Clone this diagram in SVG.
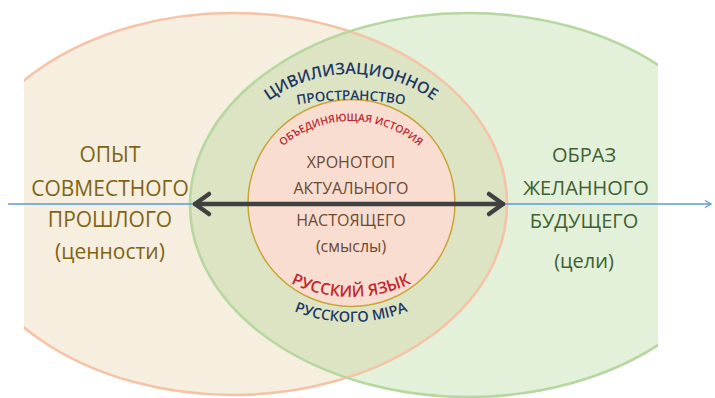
<svg xmlns="http://www.w3.org/2000/svg" width="715" height="398" viewBox="0 0 715 398">
  <defs>
    <clipPath id="crop"><rect x="24" y="0" width="634" height="398"/></clipPath>
    <path id="arcCiv" d="M 211 214 A 140 140 0 0 1 491 214"/>
    <path id="arcProst" d="M 51 400 A 300 300 0 0 1 651 400"/>
    <path id="arcObj" d="M 246 226 A 105 105 0 0 1 456 226"/>
    <path id="arcRus" d="M 211 157 A 140 140 0 0 0 491 157"/>
    <path id="arcMir" d="M 196 167 A 155 155 0 0 0 506 167"/>
    <marker id="blueHead" markerWidth="10" markerHeight="10" refX="8" refY="5" orient="auto" markerUnits="userSpaceOnUse">
      <path d="M 2 1.5 L 8 5 L 2 8.5" fill="none" stroke="#5B9BD5" stroke-width="1.3"/>
    </marker>
  </defs>
  <style>
    text { font-family: "Open Sans", "Noto Sans", "DejaVu Sans", sans-serif; text-anchor: middle; }
    .side-l { fill: #7F6414; font-size: 21px; }
    .side-r { fill: #3F6030; font-size: 20px; }
    .core { fill: #6B4A33; font-size: 16px; }
    .navy { fill: #1F3864; font-weight: 600; }
    .red { fill: #C0282F; font-weight: 600; }
  </style>

  <g id="past" clip-path="url(#crop)">
    <ellipse cx="233" cy="204" rx="274" ry="191" fill="#F6EEDF"/>
  </g>
  <g id="future" clip-path="url(#crop)">
    <ellipse cx="468" cy="205" rx="278" ry="192" fill="#A9D18E" fill-opacity="0.33"/>
  </g>
  <g id="outlines" clip-path="url(#crop)" fill="none" stroke-width="2.6">
    <ellipse cx="233" cy="204" rx="274" ry="191" stroke="#F5C3A6"/>
    <ellipse cx="468" cy="205" rx="278" ry="192" stroke="#B7D7A0"/>
  </g>

  <g id="present">
    <circle cx="351.5" cy="203" r="103.5" fill="#F9DDD0" stroke="#C9A437" stroke-width="1.5"/>
    <text class="core" x="351" y="168">ХРОНОТОП</text>
    <text class="core" x="351" y="194">АКТУАЛЬНОГО</text>
    <text class="core" x="351" y="226">НАСТОЯЩЕГО</text>
    <text class="core" x="351" y="252">(смыслы)</text>
  </g>

  <g id="labels-arc">
    <text class="navy" font-size="16"><textPath href="#arcCiv" startOffset="50%">ЦИВИЛИЗАЦИОННОЕ</textPath></text>
    <text class="navy" font-size="13.5"><textPath href="#arcProst" startOffset="50%">ПРОСТРАНСТВО</textPath></text>
    <text class="red" font-size="10.5" font-weight="400"><textPath href="#arcObj" startOffset="50%">ОБЪЕДИНЯЮЩАЯ ИСТОРИЯ</textPath></text>
    <text class="red" font-size="16"><textPath href="#arcRus" startOffset="50%">РУССКИЙ ЯЗЫК</textPath></text>
    <text class="navy" font-size="14.5"><textPath href="#arcMir" startOffset="50%">РУССКОГО МІРА</textPath></text>
  </g>

  <g id="past-label">
    <text class="side-l" x="110" y="162">ОПЫТ</text>
    <text class="side-l" x="110" y="196">СОВМЕСТНОГО</text>
    <text class="side-l" x="110" y="227">ПРОШЛОГО</text>
    <text class="side-l" x="110" y="259">(ценности)</text>
  </g>

  <g id="future-label">
    <text class="side-r" x="584" y="162">ОБРАЗ</text>
    <text class="side-r" x="586" y="195">ЖЕЛАННОГО</text>
    <text class="side-r" x="584" y="228">БУДУЩЕГО</text>
    <text class="side-r" x="584" y="268">(цели)</text>
  </g>

  <g id="connectors">
    <line x1="8" y1="204" x2="711" y2="204" stroke="#5B9BD5" stroke-width="1.5" marker-end="url(#blueHead)"/>
    <g fill="none" stroke="#404040" stroke-width="4.5" stroke-linecap="round" stroke-linejoin="round">
      <line x1="195" y1="204" x2="503" y2="204"/>
      <path d="M 209 194 L 195 204 L 209 214"/>
      <path d="M 489 194 L 503 204 L 489 214"/>
    </g>
  </g>
</svg>
